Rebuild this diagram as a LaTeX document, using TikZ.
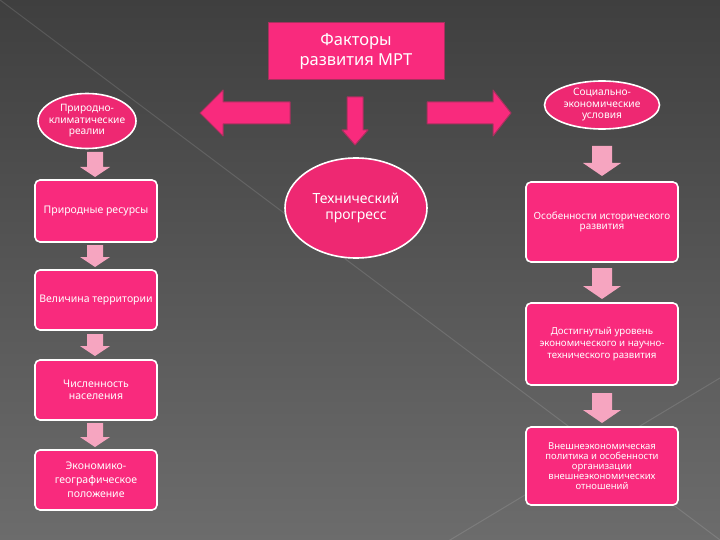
\documentclass[tikz,border=0pt]{standalone}
\usepackage{fontspec}
\setmainfont{Noto Sans}
\usetikzlibrary{shapes.geometric}
\definecolor{bgtop}{HTML}{3F3F3F}
\definecolor{bgbot}{HTML}{6C6C6C}
\definecolor{hot}{HTML}{F92A7D}
\definecolor{ellc}{HTML}{EE2872}
\definecolor{arrowpink}{HTML}{F6A5C0}
\definecolor{glow}{HTML}{A8305E}
\begin{document}
\begin{tikzpicture}[x=1pt,y=-1pt,
  box/.style={draw=white, line width=1.6pt, fill=hot, rounded corners=5pt, text=white,
    align=center, inner sep=1pt, font=\fontsize{10.5}{12}\selectfont},
  oval/.style={ellipse, draw=white, line width=1.6pt, fill=ellc, text=white,
    align=center, inner xsep=-14pt, inner ysep=-6pt, font=\fontsize{10.2}{11.5}\selectfont},
  bigarrow/.style={fill=hot, draw=glow, line width=1pt, line join=round},
  pics/larrow/.style={code={\fill[arrowpink] (-8,0) -- (8,0) -- (8,#1-10) -- (15,#1-10)
      -- (0,#1) -- (-15,#1-10) -- (-8,#1-10) -- cycle;}},
  pics/rarrow/.style={code={\fill[arrowpink] (-10,0) -- (10,0) -- (10,#1-13) -- (19,#1-13)
      -- (0,#1) -- (-19,#1-13) -- (-10,#1-13) -- cycle;}}
]
% background
\fill[top color=bgtop, bottom color=bgbot] (0,0) rectangle (720,540);
\useasboundingbox (0,0) rectangle (720,540);
\draw[white, opacity=0.12, line width=1pt] (0,0) -- (720,540);
\draw[white, opacity=0.12, line width=1pt] (720,378) -- (420,558);

% title
\node[fill=hot, draw=glow, line width=1pt, minimum width=176pt, minimum height=57pt,
  text=white, align=center, font=\fontsize{16.5}{20}\selectfont] (title) at (356,51.5)
  {Факторы\\развития МРТ};

% big arrows
\coordinate (la) at (200,113);
\coordinate (ra) at (511,113);
\coordinate (da) at (355,145);
\draw[bigarrow] (la) -- ++(23,-23) -- ++(0,12) -- ++(67,0) -- ++(0,22) -- ++(-67,0)
  -- ++(0,12) -- cycle;
\draw[bigarrow] (ra) -- ++(-18,-23) -- ++(0,12) -- ++(-66,0) -- ++(0,22) -- ++(66,0)
  -- ++(0,12) -- cycle;
\draw[bigarrow] (da) -- ++(-13,-15) -- ++(5,0) -- ++(0,-33) -- ++(16,0) -- ++(0,33)
  -- ++(5,0) -- cycle;

% ellipses
\node[oval, minimum width=98pt, minimum height=55pt] (pk) at (87,121)
  {Природно-\\климатические\\реалии};
\node[oval, minimum width=115pt, minimum height=48pt] (se) at (602,105)
  {Социально-\\экономические\\условия};
\node[oval, minimum width=142pt, minimum height=100pt,
  font=\fontsize{14}{15.5}\selectfont] (tp) at (356,208) {Технический\\прогресс};

% left column
\node[box, minimum width=122pt, minimum height=62pt] (l1) at (96,211) {Природные ресурсы};
\node[box, minimum width=122pt, minimum height=60pt] (l2) at (96,300) {Величина территории};
\node[box, minimum width=122pt, minimum height=60pt] (l3) at (96,390) {Численность\\населения};
\node[box, minimum width=122pt, minimum height=60pt, font=\fontsize{10.5}{14}\selectfont]
  (l4) at (96,480) {Экономико-\\географическое\\положение};

% right column
\node[box, minimum width=152pt, minimum height=80pt, font=\fontsize{9.9}{10.5}\selectfont]
  (r1) at (602,222) {Особенности исторического\\развития};
\node[box, minimum width=152pt, minimum height=82pt, font=\fontsize{9.7}{12}\selectfont]
  (r2) at (602,344) {Достигнутый уровень\\экономического и научно-\\технического развития};
\node[box, minimum width=152pt, minimum height=78pt, font=\fontsize{9.5}{10}\selectfont]
  (r3) at (602,466) {Внешнеэкономическая\\политика и особенности\\организации\\внешнеэкономических\\отношений};

% small arrows
\pic at (95,152) {larrow=25};
\pic at (95,245) {larrow=22};
\pic at (95,334) {larrow=22};
\pic at (95,423) {larrow=24};
\pic at (602,146) {rarrow=30};
\pic at (602,268) {rarrow=31};
\pic at (602,393) {rarrow=30};
\end{tikzpicture}
\end{document}
